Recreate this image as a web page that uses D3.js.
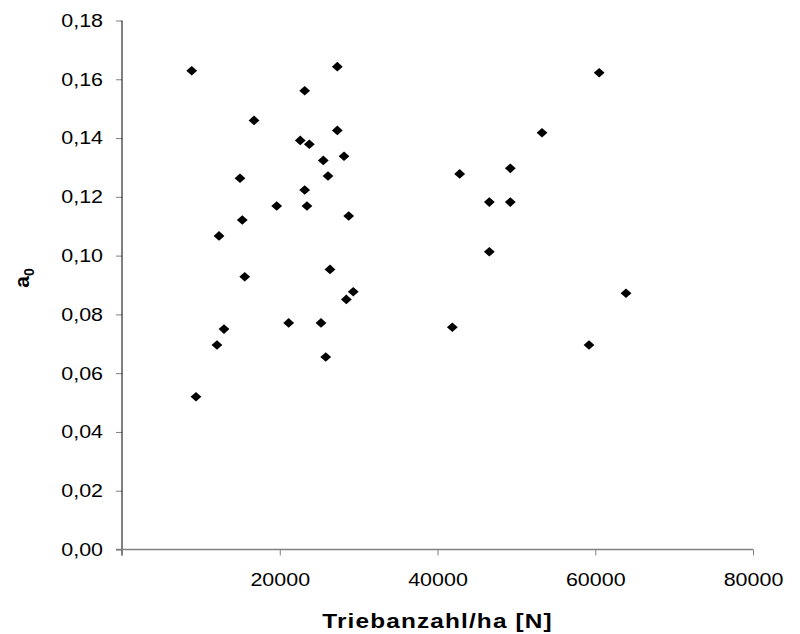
<!DOCTYPE html>
<html>
<head>
<meta charset="utf-8">
<script src="https://cdn.jsdelivr.net/npm/d3@7"></script>
<style>
  html, body { margin: 0; padding: 0; background: #fff; }
  svg { display: block; }
  text { font-family: "Liberation Sans", Arial, sans-serif; fill: #000; }
</style>
</head>
<body>
<svg id="chart" width="800" height="634"></svg>
<script>
// Shoot density per hectare and fitted a0 coefficient
const triebanzahl = [
  8840, 27300, 23160, 16740, 27300, 22600, 23750, 25520, 28150, 26120,
  42810, 14960, 23160, 19610, 23450, 28740, 15250, 12300, 26370, 15560,
  29320, 28440, 21130, 25230, 12930, 12040, 41880, 25830, 9380, 49230,
  46570, 49230, 46570, 63900, 59210, 53250, 60500
];
const a0 = [
  0.1629, 0.1643, 0.1561, 0.1460, 0.1426, 0.1392, 0.1379, 0.1324, 0.1338, 0.1271,
  0.1278, 0.1263, 0.1223, 0.1169, 0.1169, 0.1135, 0.1121, 0.1067, 0.0953, 0.0928,
  0.0877, 0.0851, 0.0771, 0.0771, 0.0750, 0.0696, 0.0756, 0.0655, 0.0520, 0.1297,
  0.1182, 0.1182, 0.1013, 0.0872, 0.0696, 0.1418, 0.1622
];
const yTicks = [0, 0.02, 0.04, 0.06, 0.08, 0.10, 0.12, 0.14, 0.16, 0.18];
const xTicks = [0, 20000, 40000, 60000, 80000];

const svg = d3.select("#chart");
const plot = { left: 122, right: 753, top: 20.5, bottom: 549.5 };
const stretch = 1.16; // labels are set slightly wide

const x = d3.scaleLinear().domain([0, 80000]).range([plot.left, plot.right]);
const y = d3.scaleLinear().domain([0, 0.18]).range([plot.bottom, plot.top]);

function widen(sel) {
  sel.each(function () {
    const t = d3.select(this);
    const tx = +t.attr("x") || 0;
    t.attr("x", 0).attr("transform", `translate(${tx},0) scale(${stretch},1)`);
  });
}

// y axis: black spine, grey ticks, comma decimals
const yAxis = svg.append("g")
  .attr("transform", `translate(${plot.left},0)`)
  .call(d3.axisLeft(y).tickValues(yTicks).tickSize(6).tickPadding(13)
    .tickFormat(d => d3.format(".2f")(d).replace(".", ",")));
yAxis.select(".domain").remove();
yAxis.selectAll(".tick line").attr("stroke", "#808080");
yAxis.selectAll(".tick text").attr("font-size", 18.5).call(widen);
svg.append("line")
  .attr("x1", plot.left).attr("x2", plot.left)
  .attr("y1", y(0.18)).attr("y2", y(0) + 6)
  .attr("stroke", "#000").attr("stroke-width", 1);

// x axis: grey spine and ticks
const xAxis = svg.append("g")
  .attr("transform", `translate(0,${plot.bottom})`)
  .call(d3.axisBottom(x).tickValues(xTicks).tickSize(6).tickPadding(17)
    .tickFormat(d => d === 0 ? "" : String(d)));
xAxis.select(".domain").remove();
xAxis.selectAll(".tick line").attr("stroke", "#808080");
xAxis.selectAll(".tick text").attr("font-size", 18.5).call(widen);
svg.append("line")
  .attr("x1", plot.left - 6).attr("x2", plot.right)
  .attr("y1", plot.bottom).attr("y2", plot.bottom)
  .attr("stroke", "#808080").attr("stroke-width", 1.5);

// axis titles
svg.append("text")
  .attr("transform", `translate(${(plot.left + plot.right) / 2},628) scale(${stretch},1)`)
  .attr("text-anchor", "middle")
  .attr("font-size", 21)
  .attr("font-weight", "bold")
  .attr("letter-spacing", 1)
  .text("Triebanzahl/ha [N]");

const yTitle = svg.append("text")
  .attr("transform", `translate(29,278) rotate(-90)`)
  .attr("text-anchor", "middle")
  .attr("font-size", 21)
  .attr("font-weight", "bold");
yTitle.append("tspan").text("a");
yTitle.append("tspan").attr("font-size", 14).attr("dy", 5).text("0");

// diamond markers
const diamond = "M0,-4.8L5.4,0L0,4.8L-5.4,0Z";
svg.append("g").selectAll("path")
  .data(d3.range(a0.length))
  .join("path")
  .attr("d", diamond)
  .attr("transform", i => `translate(${x(triebanzahl[i])},${y(a0[i])})`)
  .attr("fill", "#000");
</script>
</body>
</html>
